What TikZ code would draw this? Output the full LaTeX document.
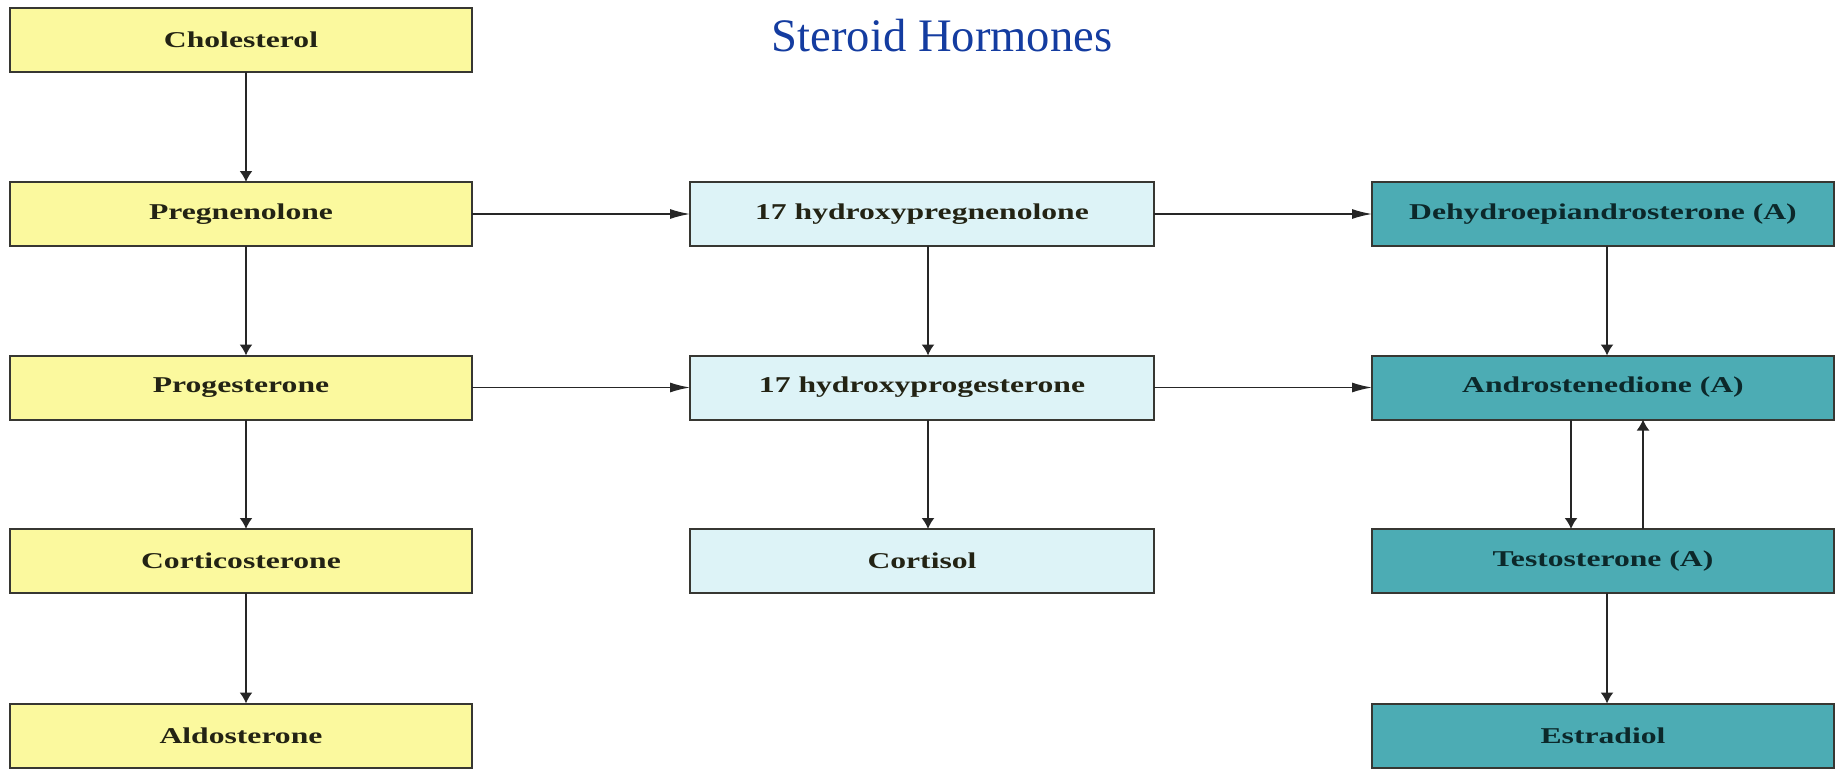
\documentclass[tikz,border=0pt]{standalone}
\usepackage{fontspec}
\setmainfont{Liberation Serif}
\newfontfamily\boxfont[FakeStretch=1.4]{Liberation Serif}
\usetikzlibrary{arrows.meta}
\definecolor{ybox}{RGB}{251,249,158}
\definecolor{lbox}{RGB}{221,243,247}
\definecolor{tbox}{RGB}{76,172,180}
\definecolor{edgec}{RGB}{55,55,50}
\definecolor{titleblue}{RGB}{20,60,160}
\definecolor{ytext}{RGB}{35,35,20}
\definecolor{ttext}{RGB}{12,40,42}
\begin{document}
\begin{tikzpicture}[x=0.5pt,y=-0.5pt,
  hbox/.style={draw=edgec,line width=1pt,minimum width=231pt,minimum height=32pt,
    inner sep=0pt,outer sep=0pt,font=\boxfont\bfseries\fontsize{11.3}{13}\selectfont},
  ybx/.style={hbox,fill=ybox,text=ytext},
  lbx/.style={hbox,fill=lbox,text=ytext},
  tbx/.style={hbox,fill=tbox,text=ttext},
  vconn/.style={draw=black!85,line width=0.8pt,-{Latex[length=5.5pt,width=6.5pt]}},
  hconn/.style={draw=black!85,line width=0.7pt,-{Latex[length=10pt,width=5pt]}}]
\useasboundingbox (0,0) rectangle (1837,771);
% title
\node[anchor=base,font=\fontsize{23.3}{28}\selectfont,text=titleblue] (title) at (942,51) {Steroid Hormones};
% left column
\node[ybx] (chol) at (241,39.5) {Cholesterol};
\node[ybx] (preg) at (241,214) {Pregnenolone};
\node[ybx] (prog) at (241,387.5) {Progesterone};
\node[ybx] (cort) at (241,561) {Corticosterone};
\node[ybx] (aldo) at (241,735.5) {Aldosterone};
% middle column
\node[lbx,minimum width=232pt] (ohpreg) at (922,214) {17 hydroxypregnenolone};
\node[lbx,minimum width=232pt] (ohprog) at (922,387.5) {17 hydroxyprogesterone};
\node[lbx,minimum width=232pt] (cortisol) at (922,561) {Cortisol};
% right column
\node[tbx] (dhea) at (1603,214) {Dehydroepiandrosterone (A)};
\node[tbx] (andro) at (1603,387.5) {Androstenedione (A)};
\node[tbx] (testo) at (1603,561) {Testosterone (A)};
\node[tbx] (estr) at (1603,735.5) {Estradiol};
% vertical connectors
\draw[vconn] ([xshift=2.5pt]chol.south) -- ([xshift=2.5pt]preg.north);
\draw[vconn] ([xshift=2.5pt]preg.south) -- ([xshift=2.5pt]prog.north);
\draw[vconn] ([xshift=2.5pt]prog.south) -- ([xshift=2.5pt]cort.north);
\draw[vconn] ([xshift=2.5pt]cort.south) -- ([xshift=2.5pt]aldo.north);
\draw[vconn] ([xshift=3pt]ohpreg.south) -- ([xshift=3pt]ohprog.north);
\draw[vconn] ([xshift=3pt]ohprog.south) -- ([xshift=3pt]cortisol.north);
\draw[vconn] ([xshift=2pt]dhea.south) -- ([xshift=2pt]andro.north);
\draw[vconn] ([xshift=-16pt]andro.south) -- ([xshift=-16pt]testo.north);
\draw[vconn] ([xshift=20pt]testo.north) -- ([xshift=20pt]andro.south);
\draw[vconn] ([xshift=2pt]testo.south) -- ([xshift=2pt]estr.north);
% horizontal connectors
\draw[hconn] (preg.east) -- (ohpreg.west);
\draw[hconn] (prog.east) -- (ohprog.west);
\draw[hconn] (ohpreg.east) -- (dhea.west);
\draw[hconn] (ohprog.east) -- (andro.west);
\end{tikzpicture}
\end{document}
